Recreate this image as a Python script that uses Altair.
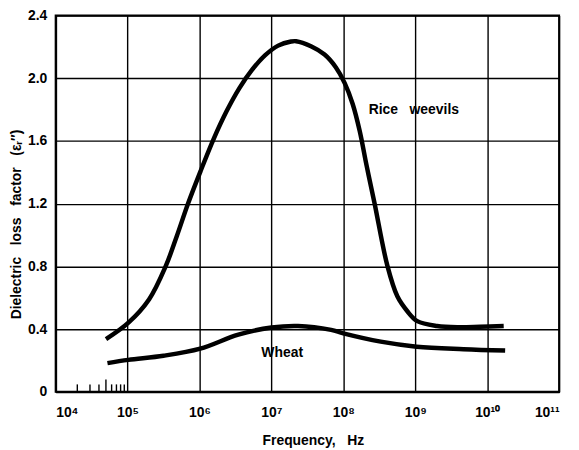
import altair as alt
import pandas as pd

NB = "\u00a0"

# Rice weevils: log10(frequency) and dielectric loss factor
rw_log = [4.70, 5.012, 5.298, 5.529, 5.685, 5.841, 6.017, 6.196, 6.376, 6.555, 6.735, 6.914,
          7.094, 7.273, 7.343, 7.550, 7.739, 7.895, 8.019, 8.130, 8.227, 8.323, 8.434, 8.613,
          8.751, 8.890, 9.028, 9.304, 9.60, 9.90, 10.23]
rw_val = [0.336, 0.441, 0.589, 0.800, 0.994, 1.201, 1.410, 1.612, 1.789, 1.937, 2.056, 2.147,
          2.208, 2.234, 2.236, 2.204, 2.151, 2.070, 1.969, 1.836, 1.665, 1.444, 1.203, 0.803,
          0.609, 0.514, 0.451, 0.420, 0.412, 0.415, 0.420]

# Wheat
wh_log = [4.72, 5.01, 5.50, 6.01, 6.54, 7.0, 7.37, 7.83, 8.0, 8.52, 9.02, 9.67, 10.25]
wh_val = [0.183, 0.204, 0.23, 0.275, 0.365, 0.41, 0.42, 0.395, 0.373, 0.32, 0.288, 0.272, 0.263]

# annotations
label_text = ["Rice" + NB * 3 + "weevils", "Wheat"]
label_log = [8.98, 7.15]
label_val = [1.80, 0.246]

x_ticks = [1e4, 1e5, 1e6, 1e7, 1e8, 1e9, 1e10, 1e11]
x_tick_labels = ["10⁴", "10⁵", "10⁶", "10⁷", "10⁸", "10⁹", "10¹⁰", "10¹¹"]
y_ticks = [0, 0.4, 0.8, 1.2, 1.6, 2.0, 2.4]
minor_ticks = [2e4, 3e4, 4e4, 6e4, 7e4, 8e4, 9e4]
minor_tick_long = [5e4]

W, H = 507, 379
FONT = "Liberation Sans"

df = pd.concat([
    pd.DataFrame({"freq": [10 ** v for v in rw_log], "val": rw_val, "series": "Rice weevils"}),
    pd.DataFrame({"freq": [10 ** v for v in wh_log], "val": wh_val, "series": "Wheat"}),
])
lab = pd.DataFrame({"freq": [10 ** v for v in label_log], "val": label_val, "text": label_text})

label_expr = "[" + ",".join("'%s'" % s for s in x_tick_labels) + "][round(log(datum.value)/LN10) - 4]"

xscale = alt.Scale(type="log", domain=[1e4, 1e11], nice=False)
yscale = alt.Scale(domain=[0, 2.4], nice=False)

xaxis = alt.Axis(values=x_ticks, labelExpr=label_expr, grid=True, gridColor="black",
                 gridWidth=1.4, gridOpacity=1, ticks=False, labelPadding=14,
                 labelFont=FONT, labelFontSize=14, labelFontWeight="bold", labelColor="black",
                 domainColor="black", domainWidth=2,
                 title="Frequency," + NB * 3 + "Hz", titleFont=FONT, titleFontSize=14,
                 titleFontWeight="bold", titleColor="black", titlePadding=14, titleX=259)
yaxis = alt.Axis(values=y_ticks, labelExpr="datum.value == 0 ? '0' : format(datum.value, '.1f')",
                 grid=True, gridColor="black", gridWidth=1.4, gridOpacity=1, ticks=False,
                 labelPadding=9, labelFont=FONT, labelFontSize=14, labelFontWeight="bold",
                 labelColor="black", domainColor="black", domainWidth=2,
                 title=(NB * 3).join(["Dielectric", "loss", "factor", "(εᵣ″)"]),
                 titleFont=FONT, titleFontSize=14,
                 titleFontWeight="bold", titleColor="black", titleX=-39, titleY=210,
                 titleBaseline="middle")

lines = alt.Chart(df).mark_line(color="black", strokeWidth=4.5, interpolate="catmull-rom",
                                strokeCap="butt").encode(
    x=alt.X("freq:Q", scale=xscale, axis=xaxis),
    y=alt.Y("val:Q", scale=yscale, axis=yaxis),
    detail="series:N",
)

texts = alt.Chart(lab).mark_text(font=FONT, fontSize=14, fontWeight="bold", color="black").encode(
    x=alt.X("freq:Q", scale=xscale),
    y=alt.Y("val:Q", scale=yscale),
    text="text:N",
)

minor = alt.Chart(pd.DataFrame({"freq": minor_ticks})).mark_rule(color="black", strokeWidth=1.4).encode(
    x=alt.X("freq:Q", scale=xscale),
    y=alt.value(H),
    y2=alt.value(H - 7.5),
)
minor_long = alt.Chart(pd.DataFrame({"freq": minor_tick_long})).mark_rule(color="black", strokeWidth=1.4).encode(
    x=alt.X("freq:Q", scale=xscale),
    y=alt.value(H),
    y2=alt.value(H - 12.5),
)

chart = alt.layer(lines, texts, minor, minor_long).properties(
    width=W, height=H,
    autosize=alt.AutoSizeParams(type="none"),
    padding={"left": 48, "top": 6, "right": 12, "bottom": 56},
    background="white",
).configure_view(stroke="black", strokeWidth=2)

chart.save("out.html", embed_options={"renderer": "svg", "actions": False})
